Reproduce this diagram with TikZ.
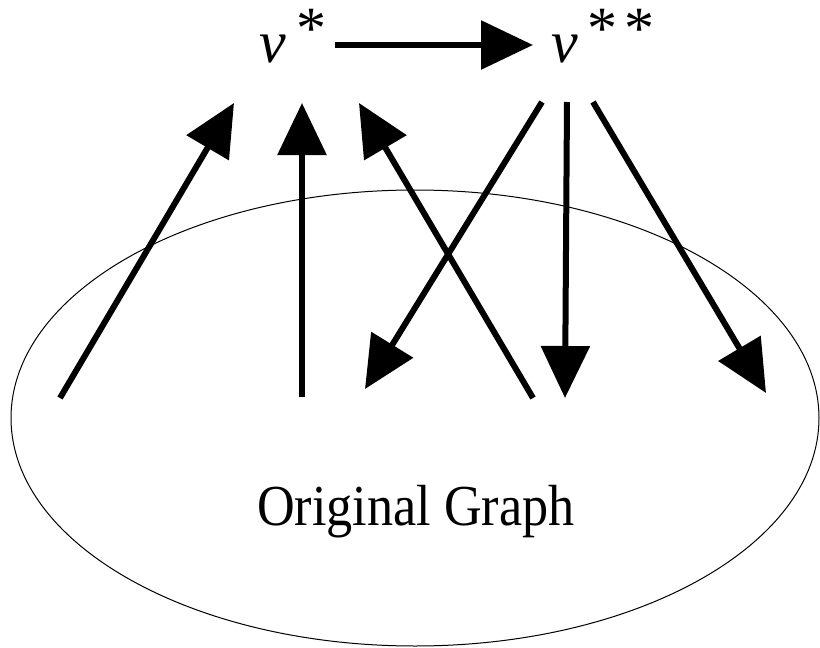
\documentclass[tikz,border=0pt]{standalone}
\usepackage{fontspec}
\setmainfont{Liberation Serif}
\usetikzlibrary{arrows.meta}
\tikzset{
  bigarrow/.style={line width=6pt, -{Triangle[length=52pt,width=48pt]}},
  lbl/.style={inner sep=0pt, anchor=base west, font=\fontsize{60pt}{60pt}\selectfont},
}
\begin{document}
\begin{tikzpicture}[x=1pt,y=-1pt]
\useasboundingbox (0,0) rectangle (820,648);
% ellipse
\draw[line width=1pt] (415,418) ellipse [x radius=404, y radius=228];
\node[inner sep=0pt, anchor=base, font=\fontsize{58pt}{58pt}\selectfont] (og) at (416,525) {\scalebox{0.9}[1]{Original Graph}};
% labels
\node[lbl] (vs) at (259,62) {\textit{v}\hspace{11pt}\raisebox{14pt}{*}};
\node[lbl] (vss) at (551,62) {\textit{v}\hspace{10pt}\raisebox{14pt}{*\hspace{7pt}*}};
% coordinates
\coordinate (hA) at (335,45);
\coordinate (hB) at (533,45);
\coordinate (a1s) at (60,398);  \coordinate (a1e) at (234,103);
\coordinate (a2s) at (302,397); \coordinate (a2e) at (302,103);
\coordinate (a3s) at (533,398); \coordinate (a3e) at (359,103);
\coordinate (a4s) at (542,102); \coordinate (a4e) at (365,389);
\coordinate (a5s) at (567,102); \coordinate (a5e) at (565,398);
\coordinate (a6s) at (593,102); \coordinate (a6e) at (766,393);
% arrows
\draw[bigarrow] (hA) -- (hB);
\draw[bigarrow] (a1s) -- (a1e);
\draw[bigarrow] (a2s) -- (a2e);
\draw[bigarrow] (a3s) -- (a3e);
\draw[bigarrow] (a4s) -- (a4e);
\draw[bigarrow] (a5s) -- (a5e);
\draw[bigarrow] (a6s) -- (a6e);
\end{tikzpicture}
\end{document}
